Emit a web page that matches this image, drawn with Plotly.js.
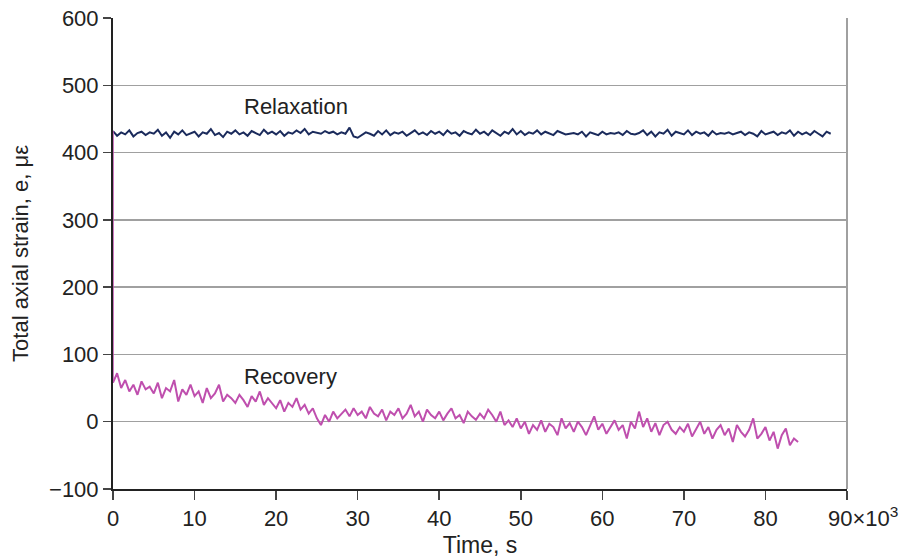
<!DOCTYPE html>
<html>
<head>
<meta charset="utf-8">
<script src="https://cdn.plot.ly/plotly-3.0.1.min.js"></script>
<style>html,body{margin:0;padding:0;background:#fff;}#chart{width:907px;height:560px;}</style>
</head>
<body>
<div id="chart"></div>
<script>
// Time in units of 10^3 s, strain in microstrain
const timeStep = 0.5;

const relaxationStrain = [
432,425,430,427,433,424,429,431,426,430,
428,434,425,430,422,431,427,433,426,429,
431,424,430,428,435,426,429,423,431,428,
433,427,430,425,432,429,426,434,428,431,
427,432,425,430,428,433,429,435,427,431,
430,428,432,429,431,427,430,428,437,424,
422,426,430,428,425,432,427,433,426,430,
428,431,425,429,433,427,430,426,432,428,
431,426,433,428,430,425,432,429,427,434,
428,431,426,433,429,425,431,428,435,427,
432,426,430,428,433,427,431,429,426,432,
430,427,428,429,427,431,424,430,428,426,
431,427,429,428,430,426,432,428,427,429,
433,426,431,424,430,428,434,425,431,429,
427,433,426,431,428,430,425,432,427,429,
428,430,427,429,431,426,430,428,424,432,
427,429,431,426,430,428,433,425,431,427,
430,426,432,428,424,431,428
];

const recoveryStartTime = [0, 0];
const recoveryStartStrain = [432, 58];

const recoveryStrain = [
58,72,50,62,45,55,40,60,48,52,
42,58,35,50,45,62,30,48,40,55,
38,45,28,50,35,42,55,30,40,35,
28,40,32,22,38,30,45,25,35,28,
20,32,15,28,22,35,18,25,12,20,
5,-5,10,0,15,5,12,18,8,20,
10,15,5,22,12,8,18,2,15,10,
20,5,12,25,8,15,0,18,10,5,
15,2,12,20,5,10,-2,15,8,3,
12,5,18,10,0,15,-5,2,-8,5,
-10,0,-18,-5,-12,2,-15,-3,-8,-20,
5,-10,-2,-15,0,-8,-20,-5,8,-12,
-3,-18,-8,2,-12,-5,-25,0,-10,15,
-8,5,-15,-2,-20,-5,0,-12,-18,-8,
-15,-3,-22,-10,0,-18,-8,-25,-12,-5,
-20,-10,-30,-5,-15,-22,-12,5,-25,-18,
-8,-28,-15,-40,-20,-10,-35,-25,-30
];

const xTickVals = [0,10,20,30,40,50,60,70,80,90];
const xTickText = ["0","10","20","30","40","50","60","70","80",""];
const yTickVals = [-100,0,100,200,300,400,500,600];

const navy = '#1b2b5c';
const magenta = '#bf4fae';
const font = 'Liberation Sans, Arial, sans-serif';
const txt = '#222';

const traces = [
  {type:'scatter', mode:'lines', x0:0, dx:timeStep, y:relaxationStrain,
   line:{color:navy, width:2}, hoverinfo:'skip'},
  {type:'scatter', mode:'lines', x:recoveryStartTime, y:recoveryStartStrain,
   line:{color:magenta, width:1.5}, hoverinfo:'skip'},
  {type:'scatter', mode:'lines', x0:0, dx:timeStep, y:recoveryStrain,
   line:{color:magenta, width:2}, hoverinfo:'skip'}
];

const layout = {
  width:907, height:560,
  margin:{l:113, r:60, t:18, b:71},
  paper_bgcolor:'#fff', plot_bgcolor:'#fff',
  showlegend:false,
  font:{family:font, size:22, color:txt},
  xaxis:{
    range:[0,90], tickvals:xTickVals, ticktext:xTickText,
    showgrid:false, zeroline:false,
    showline:true, linecolor:'#222', linewidth:2,
    ticks:'outside', ticklen:9, tickwidth:1.5, tickcolor:'#444',
    tickfont:{size:22, family:font, color:txt},
    title:{text:'Time, s', font:{size:23, family:font, color:txt}, standoff:6}
  },
  yaxis:{
    range:[-100,600], tickvals:yTickVals,
    showgrid:true, gridcolor:'#a0a0a0', gridwidth:1.5,
    zeroline:false,
    showline:true, linecolor:'#222', linewidth:2,
    ticks:'outside', ticklen:8, tickwidth:1.5, tickcolor:'#444',
    tickfont:{size:22, family:font, color:txt},
    title:{text:'Total axial strain, e, με', font:{size:22, family:font, color:txt}, standoff:14}
  },
  shapes:[
    {type:'line', xref:'paper', yref:'paper', x0:1, x1:1, y0:0, y1:1,
     line:{color:'#a0a0a0', width:2}}
  ],
  annotations:[
    {x:22.4, y:469, xref:'x', yref:'y', text:'Relaxation', showarrow:false,
     font:{size:22, family:font, color:txt}},
    {x:21.8, y:67, xref:'x', yref:'y', text:'Recovery', showarrow:false,
     font:{size:22, family:font, color:txt}},
    {x:87.4, y:-100, xref:'x', yref:'y', xanchor:'left', yanchor:'top', yshift:-12,
     text:'90×10<sup>3</sup>', showarrow:false,
     font:{size:22, family:font, color:txt}}
  ]
};

Plotly.newPlot('chart', traces, layout, {displayModeBar:false, staticPlot:true});
</script>
</body>
</html>
